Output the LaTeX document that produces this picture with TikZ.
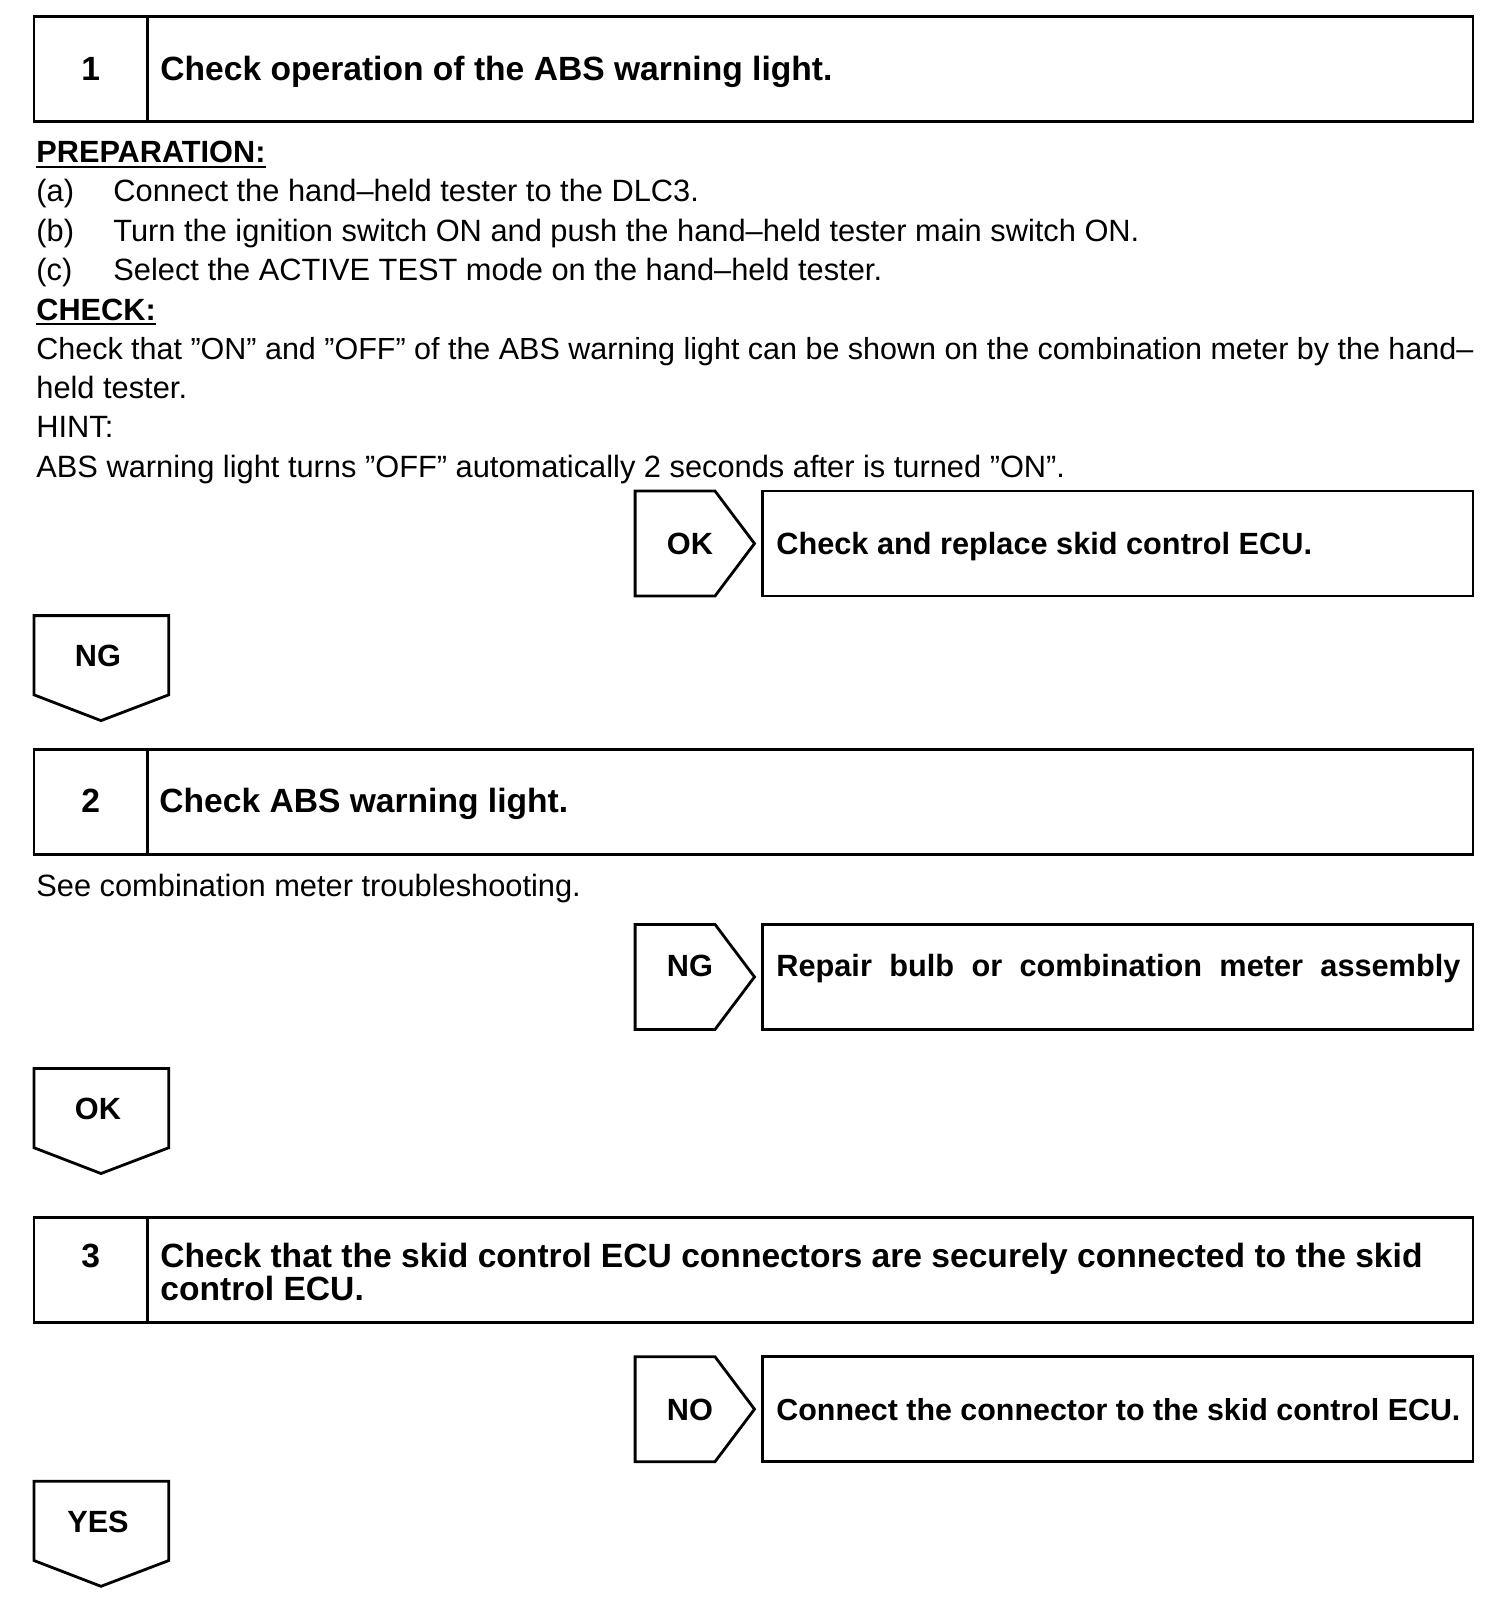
\documentclass[tikz,border=0pt]{standalone}
\usepackage{fontspec}
\setmainfont{Liberation Sans}
\usepackage{tikz}

\tikzset{
  outline/.style={line width=1.4pt, line join=miter},
  body/.style={anchor=base west, inner sep=0pt, font=\fontsize{15.4}{19.7}\selectfont},
  head/.style={anchor=base west, inner sep=0pt, font=\fontsize{15.35}{19.7}\selectfont\bfseries},
  title/.style={anchor=base west, inner sep=0pt, align=left, font=\fontsize{16.8}{16.5}\selectfont\bfseries},
  tag/.style={anchor=base, inner sep=0pt, font=\fontsize{15.35}{18}\selectfont\bfseries},
}

\begin{document}
\begin{tikzpicture}[x=0.5pt,y=-0.5pt]

\useasboundingbox (0,0) rectangle (1504,1614);

% Step boxes with their numbers
\foreach \n/\top/\base in {1/16.5/80, 2/749.4/812, 3/1217.8/1267} {
    \draw[outline] (34,\top) rectangle (1473,\top+105);
    \draw[outline] (147.2,\top) -- (147.2,\top+105);
    \node[title,anchor=base] (num\n) at (90.6,\base) {\n};
}

% Step titles
\node[title] (title1) at (160,80) {Check operation of the ABS warning light.};
\node[title] (title2) at (159,812) {Check ABS warning light.};
\node[title] (title3) at (160,1300) {Check that the skid control ECU connectors are securely connected to the skid\\control ECU.};

% Step 1 text
\node[head] (prep) at (36,162.5) {PREPARATION:};
\draw[line width=1pt] ([yshift=-2.2pt]prep.base west) -- ([yshift=-2.2pt]prep.base east);
\foreach \item/\txt [count=\i] in {(a)/Connect the hand–held tester to the DLC3.,
    (b)/Turn the ignition switch ON and push the hand–held tester main switch ON.,
    (c)/Select the ACTIVE TEST mode on the hand–held tester.} {
    \node[body] (item\i) at (36,162.5+39.35*\i) {\item};
    \node[body] (step\i) at (113,162.5+39.35*\i) {\txt};
}
\node[head] (check) at (36,320) {CHECK:};
\draw[line width=1pt] ([yshift=-2.2pt]check.base west) -- ([yshift=-2.2pt]check.base east);
\node[body] (checktxt) at (36,359.2) {\resizebox{718.5pt}{!}{Check that ”ON” and ”OFF” of the ABS warning light can be shown on the combination meter by the hand–}};
\node[body] (checktxt2) at (36,398.5) {held tester.};
\node[body] (hint) at (36,437.9) {HINT:};
\node[body] (hinttxt) at (36,477.3) {ABS warning light turns ”OFF” automatically 2 seconds after is turned ”ON”.};

% Step 2 text
\node[body] (see) at (36,896) {See combination meter troubleshooting.};

% Side branches
\foreach \lbl/\top/\base [count=\i] in {OK/491/554.5, NG/924.4/976.6, NO/1356.7/1420} {
    \draw[outline] (635.1,\top) -- (715,\top) -- (754.5,\top+52.5) -- (715,\top+105) -- (635.1,\top+105) -- cycle;
    \draw[outline] (762.8,\top) rectangle (1473,\top+105);
    \node[tag] (side\i) at (690,\base) {\lbl};
}
\node[head] (fix1) at (776,554.5) {Check and replace skid control ECU.};
\node[head] (fix2) at (776,976.6) {\makebox[342pt][s]{Repair bulb or combination meter assembly}};
\node[head] (fix3) at (776,1420) {\resizebox{342pt}{!}{Connect the connector to the skid control ECU.}};

% Down branches
\foreach \lbl/\top [count=\i] in {NG/615.6, OK/1068.5, YES/1481.3} {
    \draw[outline] (34,\top) -- (34,\top+79.2) -- (101,\top+105) -- (168.8,\top+79.2) -- (168.8,\top) -- cycle;
    \node[tag] (down\i) at (98,\top+51) {\lbl};
}

\end{tikzpicture}
\end{document}
